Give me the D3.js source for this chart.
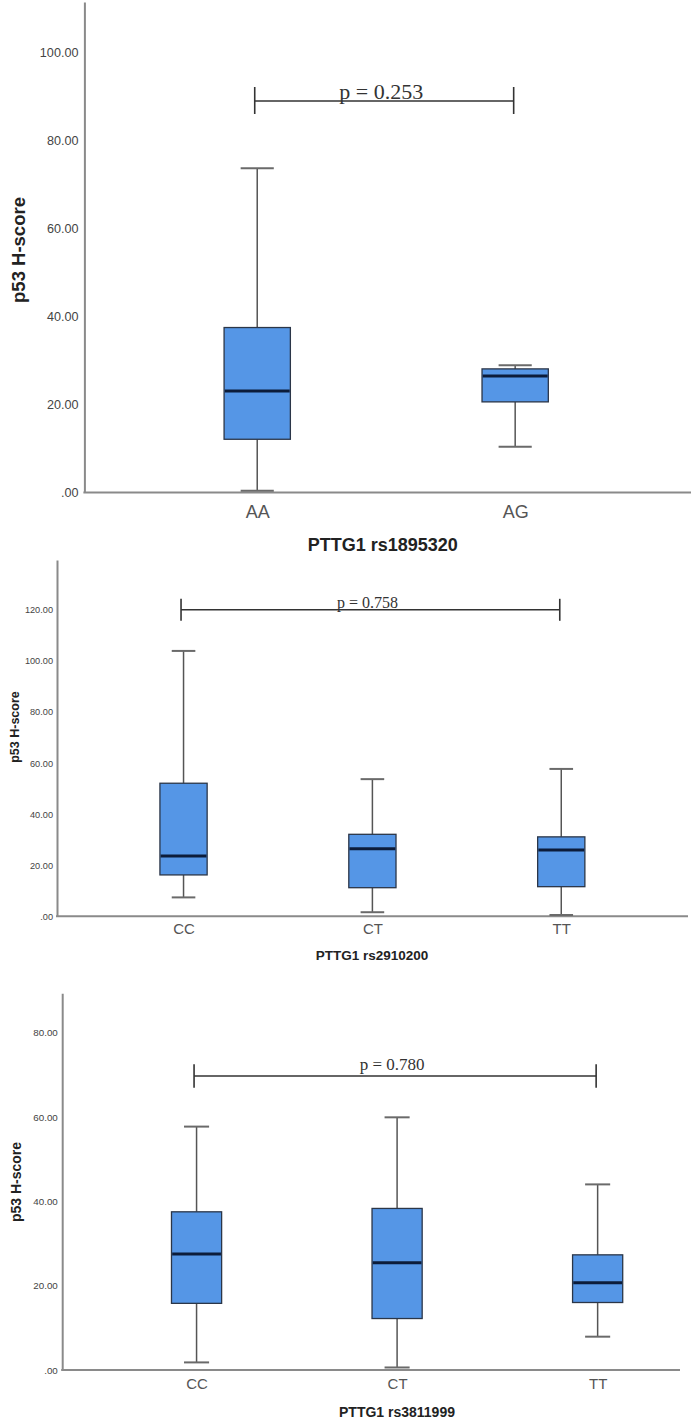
<!DOCTYPE html>
<html>
<head>
<meta charset="utf-8">
<script src="https://cdn.jsdelivr.net/npm/d3@7"></script>
<style>
  html, body { margin: 0; padding: 0; background: #fff; }
  svg { display: block; }
</style>
</head>
<body>
<svg id="chart" width="693" height="1422"></svg>
<script>
// ---------- Data ----------
// Panel 1: PTTG1 rs1895320
const p1Categories = ["AA", "AG"];
const p1Min    = [0.4, 10.4];
const p1Q1     = [12.1, 20.6];
const p1Median = [23.1, 26.5];
const p1Q3     = [37.5, 28.1];
const p1Max    = [73.7, 28.9];
const p1Ticks  = [0, 20, 40, 60, 80, 100];
const p1YMax   = 111.5;
const p1PText  = "p = 0.253";
const p1PLevel = 89.0;
const p1XTitle = "PTTG1 rs1895320";

// Panel 2: PTTG1 rs2910200
const p2Categories = ["CC", "CT", "TT"];
const p2Min    = [7.4, 1.6, 0.5];
const p2Q1     = [16.2, 11.2, 11.6];
const p2Median = [23.6, 26.4, 26.0];
const p2Q3     = [52.1, 32.1, 31.1];
const p2Max    = [103.9, 53.7, 57.7];
const p2Ticks  = [0, 20, 40, 60, 80, 100, 120];
const p2YMax   = 139.5;
const p2PText  = "p = 0.758";
const p2PLevel = 120;
const p2XTitle = "PTTG1 rs2910200";

// Panel 3: PTTG1 rs3811999
const p3Categories = ["CC", "CT", "TT"];
const p3Min    = [1.8, 0.6, 7.9];
const p3Q1     = [15.8, 12.2, 16.0];
const p3Median = [27.5, 25.4, 20.7];
const p3Q3     = [37.5, 38.3, 27.3];
const p3Max    = [57.7, 59.9, 44.0];
const p3Ticks  = [0, 20, 40, 60, 80];
const p3YMax   = 89.3;
const p3PText  = "p = 0.780";
const p3PLevel = 69.7;
const p3XTitle = "PTTG1 rs3811999";

const yTitleText = "p53 H-score";

// ---------- Layout ----------
const panels = [
  { cats: p1Categories, min: p1Min, q1: p1Q1, med: p1Median, q3: p1Q3, max: p1Max,
    ticks: p1Ticks, yMax: p1YMax, pText: p1PText, pLevel: p1PLevel, xTitle: p1XTitle,
    left: 84.4, right: 688, yTop: 2, yZero: 492.5, axisEnd: 691, boxFrac: 0.257,
    tickFont: 12.6, tickPad: 6, xLabFont: 18, xLabPad: 12.6,
    xt: { x: 382.8, y: 544.5, f: 18 }, yt: { x: 18.5, y: 250, f: 18.5 },
    pFont: 22, pOff: -2.4, vUp: 14, vDown: 13 },
  { cats: p2Categories, min: p2Min, q1: p2Q1, med: p2Median, q3: p2Q3, max: p2Max,
    ticks: p2Ticks, yMax: p2YMax, pText: p2PText, pLevel: p2PLevel, xTitle: p2XTitle,
    left: 57, right: 687.8, yTop: 560, yZero: 916.3, axisEnd: 688, boxFrac: 0.25,
    tickFont: 9.2, tickPad: 4, xLabFont: 15, xLabPad: 6.9,
    xt: { x: 372, y: 955, f: 13.5 }, yt: { x: 15, y: 727, f: 12.5 },
    pFont: 16, pOff: -1.7, vUp: 11, vDown: 11 },
  { cats: p3Categories, min: p3Min, q1: p3Q1, med: p3Median, q3: p3Q3, max: p3Max,
    ticks: p3Ticks, yMax: p3YMax, pText: p3PText, pLevel: p3PLevel, xTitle: p3XTitle,
    left: 62.2, right: 732, yTop: 993.3, yZero: 1370, axisEnd: 680, boxFrac: 0.25,
    tickFont: 9.8, tickPad: 4.4, xLabFont: 15, xLabPad: 8.6,
    xt: { x: 397, y: 1411.7, f: 14 }, yt: { x: 16, y: 1182, f: 14 },
    pFont: 17, pOff: -5.7, vUp: 11.7, vDown: 11.7 }
];

const svg = d3.select("#chart");
svg.append("rect").attr("width", 693).attr("height", 1422).attr("fill", "#fff");

const sans = "'Liberation Sans', Arial, Helvetica, sans-serif";
const serif = "'Liberation Serif', 'Times New Roman', serif";
const fmt = d => d === 0 ? ".00" : d.toFixed(2);

panels.forEach(P => {
  const g = svg.append("g");
  const x = d3.scalePoint().domain(P.cats).range([P.left, P.right]).padding(0.67);
  const y = d3.scaleLinear().domain([0, P.yMax]).range([P.yZero, P.yTop]);
  const step = x.step();
  const bw = step * P.boxFrac;
  const capW = bw * 0.5;

  // Y axis
  const yAxis = g.append("g").attr("transform", `translate(${P.left},0)`)
    .call(d3.axisLeft(y).tickValues(P.ticks).tickFormat(fmt).tickSize(0).tickSizeOuter(0).tickPadding(P.tickPad));
  yAxis.select(".domain").attr("stroke", "#8a8a8a").attr("stroke-width", 2);
  yAxis.selectAll("text").attr("font-family", sans).attr("font-size", P.tickFont).attr("fill", "#444");

  // X axis
  const xAxis = g.append("g").attr("transform", `translate(0,${y(0)})`)
    .call(d3.axisBottom(x).tickSize(0).tickSizeOuter(0).tickPadding(P.xLabPad));
  xAxis.select(".domain").remove();
  xAxis.selectAll("text").attr("font-family", sans).attr("font-size", P.xLabFont).attr("fill", "#555");
  g.append("line")
    .attr("x1", P.left - 1).attr("x2", P.axisEnd)
    .attr("y1", y(0)).attr("y2", y(0))
    .attr("stroke", "#8a8a8a").attr("stroke-width", 2);

  // Boxes
  P.cats.forEach((c, i) => {
    const cx = x(c);
    // whiskers
    g.append("line").attr("x1", cx).attr("x2", cx).attr("y1", y(P.max[i])).attr("y2", y(P.q3[i]))
      .attr("stroke", "#555").attr("stroke-width", 1.5);
    g.append("line").attr("x1", cx).attr("x2", cx).attr("y1", y(P.q1[i])).attr("y2", y(P.min[i]))
      .attr("stroke", "#555").attr("stroke-width", 1.5);
    // caps
    [P.max[i], P.min[i]].forEach(v => {
      g.append("line").attr("x1", cx - capW / 2).attr("x2", cx + capW / 2)
        .attr("y1", y(v)).attr("y2", y(v))
        .attr("stroke", "#6a6a6a").attr("stroke-width", 2);
    });
    // box
    g.append("rect")
      .attr("x", cx - bw / 2).attr("width", bw)
      .attr("y", y(P.q3[i])).attr("height", y(P.q1[i]) - y(P.q3[i]))
      .attr("fill", "#5596e6").attr("stroke", "#2b3648").attr("stroke-width", 1.3);
    // median
    g.append("line").attr("x1", cx - bw / 2 + 0.7).attr("x2", cx + bw / 2 - 0.7)
      .attr("y1", y(P.med[i])).attr("y2", y(P.med[i]))
      .attr("stroke", "#0c1c3a").attr("stroke-width", 3);
  });

  // Significance bracket
  const bx1 = x(P.cats[0]) - 2.5;
  const bx2 = x(P.cats[P.cats.length - 1]) - 1.5;
  const by = y(P.pLevel);
  g.append("line").attr("x1", bx1).attr("x2", bx2).attr("y1", by).attr("y2", by)
    .attr("stroke", "#333").attr("stroke-width", 1.6);
  [bx1, bx2].forEach(bx => {
    g.append("line").attr("x1", bx).attr("x2", bx).attr("y1", by - P.vUp).attr("y2", by + P.vDown)
      .attr("stroke", "#333").attr("stroke-width", 1.6);
  });
  g.append("text")
    .attr("x", (bx1 + bx2) / 2 - 3).attr("y", by + P.pOff)
    .attr("text-anchor", "middle")
    .attr("font-family", serif).attr("font-size", P.pFont).attr("fill", "#333")
    .text(P.pText);

  // Axis titles
  g.append("text")
    .attr("x", P.xt.x).attr("y", P.xt.y)
    .attr("text-anchor", "middle").attr("dominant-baseline", "central")
    .attr("font-family", sans).attr("font-weight", "bold").attr("font-size", P.xt.f).attr("fill", "#222")
    .text(P.xTitle);
  g.append("text")
    .attr("transform", `translate(${P.yt.x},${P.yt.y}) rotate(-90)`)
    .attr("text-anchor", "middle").attr("dominant-baseline", "central")
    .attr("font-family", sans).attr("font-weight", "bold").attr("font-size", P.yt.f).attr("fill", "#222")
    .text(yTitleText);
});
</script>
</body>
</html>
